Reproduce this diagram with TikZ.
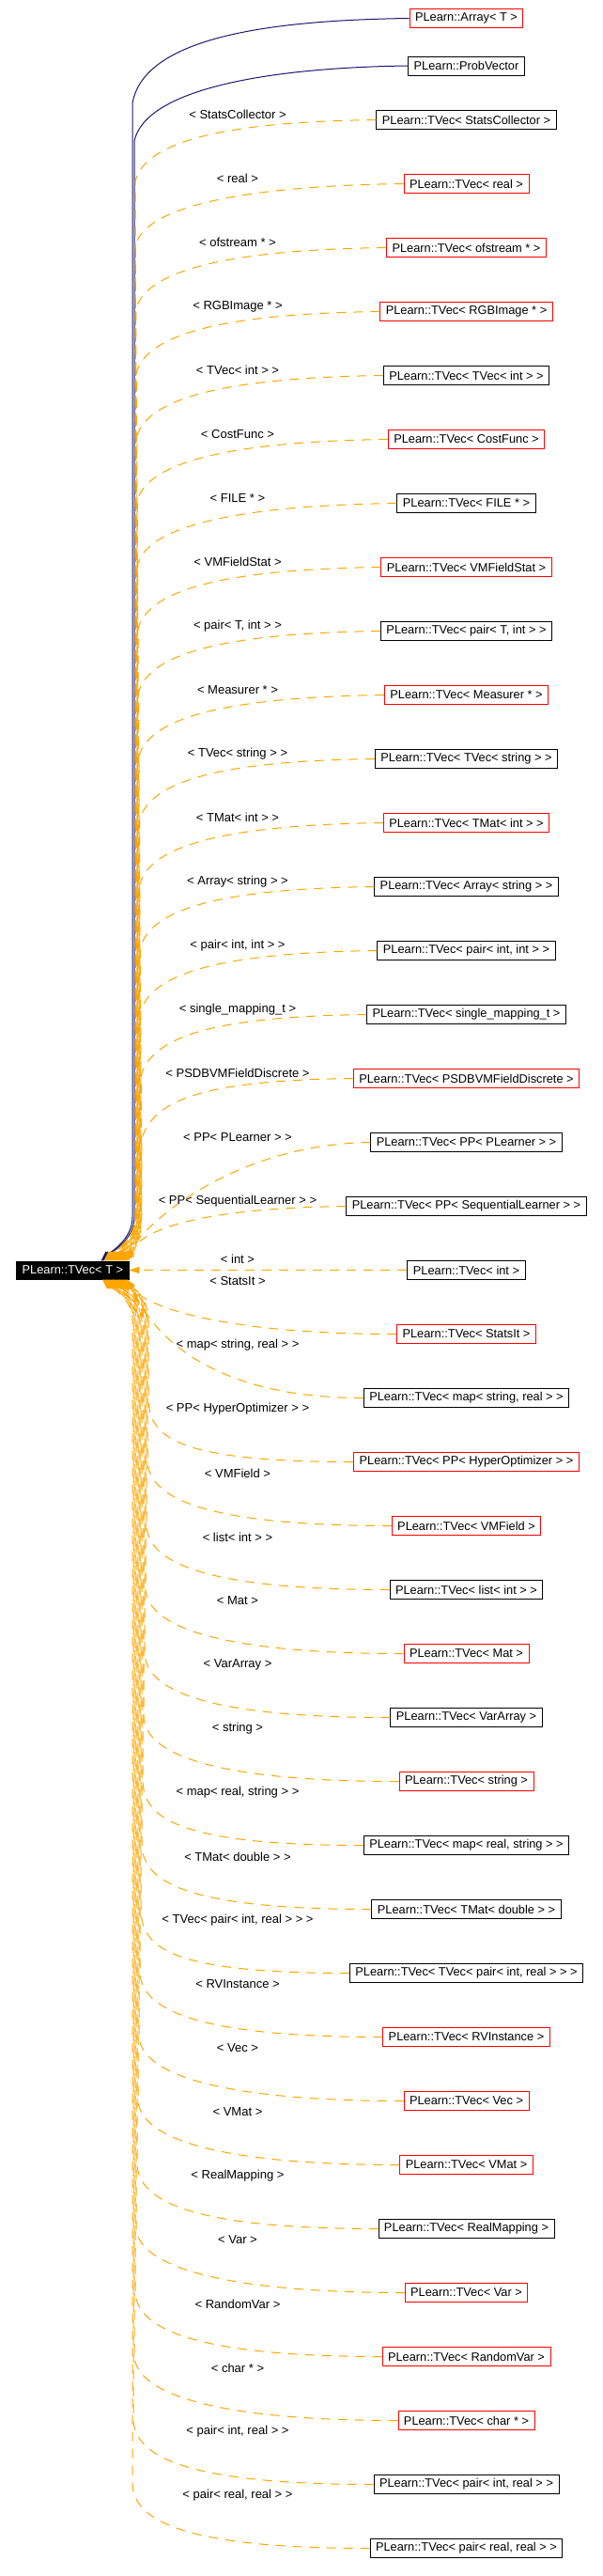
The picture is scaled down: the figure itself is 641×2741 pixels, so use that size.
\documentclass[tikz,border=0pt]{standalone}
\usepackage{fontspec}
\setmainfont{Liberation Sans}
\usetikzlibrary{arrows.meta}
\definecolor{dxorange}{HTML}{FFA500}
\definecolor{dxnavy}{HTML}{191970}
\definecolor{dxred}{HTML}{FF0000}
\begin{document}
\begin{tikzpicture}[x=1pt,y=-1pt,
  cls/.style={draw=#1, line width=0.9pt, fill=white, font=\fontsize{12.8pt}{15pt}\selectfont, inner xsep=6pt, inner ysep=0pt, minimum height=20pt, text=black},
  lab/.style={font=\fontsize{13pt}{15pt}\selectfont, inner sep=0pt, text=black},
  oedge/.style={draw=dxorange, line width=1pt, dash pattern=on 10pt off 8pt, -{Triangle[length=11pt,width=7pt,fill=dxorange]}},
  nedge/.style={draw=dxnavy, line width=1pt, -{Triangle[length=11pt,width=7pt,fill=dxnavy]}}]
\fill[white] (0,0) rectangle (641,2741);
\useasboundingbox (0,0) rectangle (641,2741);

\node[draw=black, fill=black, text=white, font=\fontsize{12.8pt}{15pt}\selectfont, inner xsep=6pt, inner ysep=0pt, minimum height=19pt] (p) at (77.4,1351.5) {PLearn::TVec< T >};

\node[cls=dxred] (arr) at (496.5,19.5) {PLearn::Array< T >};
\node[cls=black] (pv) at (496.5,70) {PLearn::ProbVector};

\draw[nedge] (arr.west) .. controls +(-150,2) and +(12,-70) .. (141,110) -- (141,1295) .. controls +(0,25) and +(8,-8) .. ([xshift=-30pt]p.north east);
\draw[nedge] (pv.west) .. controls +(-150,2) and +(12,-55) .. (143,150) -- (143,1295) .. controls +(0,25) and +(8,-8) .. ([xshift=-28.5pt]p.north east);

\foreach \ii/\tx/\col in {
0/StatsCollector/black,
1/real/dxred,
2/ofstream */dxred,
3/RGBImage */dxred,
4/{TVec< int >}/black,
5/CostFunc/dxred,
6/FILE */black,
7/VMFieldStat/dxred,
8/{pair< T, int >}/black,
9/Measurer */dxred,
10/{TVec< string >}/black,
11/{TMat< int >}/dxred,
12/{Array< string >}/black,
13/{pair< int, int >}/black,
14/single\_mapping\_t/black,
15/PSDBVMFieldDiscrete/dxred,
16/{PP< PLearner >}/black,
17/{PP< SequentialLearner >}/black,
18/int/black,
19/StatsIt/dxred,
20/{map< string, real >}/black,
21/{PP< HyperOptimizer >}/dxred,
22/VMField/dxred,
23/{list< int >}/black,
24/Mat/dxred,
25/VarArray/black,
26/string/dxred,
27/{map< real, string >}/black,
28/{TMat< double >}/black,
29/{TVec< pair< int, real > >}/black,
30/RVInstance/dxred,
31/Vec/dxred,
32/VMat/dxred,
33/RealMapping/black,
34/Var/dxred,
35/RandomVar/dxred,
36/char */dxred,
37/{pair< int, real >}/black,
38/{pair< real, real >}/black}{
  \pgfmathsetmacro\yc{127.5+68*\ii}
  \node[cls=\col] (n\ii) at (496.5,\yc) {PLearn::TVec< \tx{} >};
  \ifnum\ii<18
    \node[lab] (l\ii) at (253,\yc-5.5) {< \tx{} >};
  \fi
  \ifnum\ii=18
    \node[lab] (l\ii) at (253,1340) {< \tx{} >};
    \draw[oedge] (n\ii.west) -- (p.east);
  \fi
  \ifnum\ii>18
    \node[lab] (l\ii) at (253,\yc-56) {< \tx{} >};
  \fi
  \ifnum\ii<16
    \pgfmathsetmacro\xv{144+0.45*\ii}
    \pgfmathsetmacro\dd{27-1.5*\ii}
    \draw[oedge] (n\ii.west) .. controls +(-150,2) and +(12,-45) .. (\xv,\yc+65) -- (\xv,1295) .. controls +(0,25) and +(8,-8) .. ([xshift=-\dd pt]p.north east);
  \fi
  \ifnum\ii>15 \ifnum\ii<18
    \pgfmathsetmacro\dd{27-1.5*\ii}
    \draw[oedge] (n\ii.west) .. controls +(-150,2) and +(15,-35) .. ([xshift=-\dd pt]p.north east);
  \fi\fi
  \ifnum\ii>18 \ifnum\ii<21
    \pgfmathsetmacro\dd{2+1.4*(\ii-19)}
    \draw[oedge] (n\ii.west) .. controls +(-200,0) and +(15,25) .. ([xshift=-\dd pt]p.south east);
  \fi\fi
  \ifnum\ii>20
    \pgfmathsetmacro\xv{158-(\ii-21)}
    \pgfmathsetmacro\dd{2+1.4*(\ii-19)}
    \draw[oedge] (n\ii.west) .. controls +(-200,0) and +(0,40) .. (\xv,\yc-70) -- (\xv,1405) .. controls +(0,-25) and +(8,8) .. ([xshift=-\dd pt]p.south east);
  \fi
}
\end{tikzpicture}
\end{document}
